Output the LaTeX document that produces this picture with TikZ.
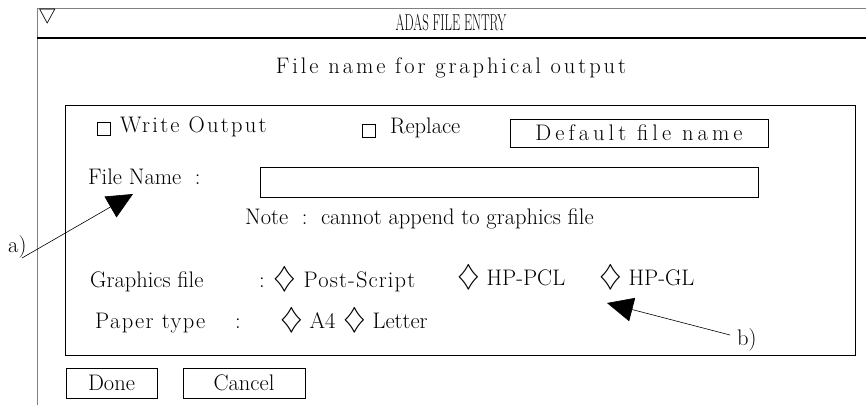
\documentclass[tikz,border=0pt]{standalone}
\usepackage{amssymb}
\usepackage{graphicx}
\usepackage{fontspec}
\setmainfont{Latin Modern Roman}
\usetikzlibrary{arrows.meta}
\newcommand{\uifont}{\fontsize{22.5}{27}\selectfont}
\newcommand{\optmark}{\raisebox{-0.5pt}{\scalebox{1.4}{$\diamondsuit$}}}
\begin{document}
\begin{tikzpicture}[x=1pt,y=-1pt,
  every node/.style={inner sep=0pt,anchor=mid west,font=\uifont},
  spaced/.style={font=\uifont\addfontfeature{LetterSpace=#1}},
  btn/.style={draw,anchor=center,inner sep=0pt},
  chkbox/.style={draw,anchor=center,minimum size=13pt},
  pointer/.style={-{Triangle[length=26pt,width=24pt]},line width=0.6pt}]
\useasboundingbox (0,0) rectangle (866,405);
% window frame
\draw[gray,line width=1pt] (37,405) -- (37,8) -- (866,8);
\draw[line width=1.2pt] (37,38) -- (866,38);
\node (menu) at (38,17) {$\bigtriangledown$};
\node[anchor=center,xscale=0.56,font=\fontsize{23}{27}\selectfont] (title) at (451,23) {ADAS FILE ENTRY};
\node[anchor=center,spaced=13] (head) at (451,68) {File name for graphical output};
\draw (65,105) rectangle (855,355);
% output options
\node[chkbox] (wbox) at (104,129) {};
\node[spaced=10] (write) at (120,130) {Write Output};
\node[chkbox] (rbox) at (369,131) {};
\node (replace) at (390,131) {Replace};
\node[btn,minimum width=258pt,minimum height=28pt,spaced=18] (default) at (639,133) {Default file name};
\node (fname) at (88,182) {File Name\ \ :};
\node[btn,minimum width=498pt,minimum height=30pt] (entry) at (509,182) {};
\node (note) at (245,222) {Note\ \ :\ \ cannot append to graphics file};
\node (graph) at (90,285) {Graphics file};
\node (gcolon) at (259,285) {:};
\node[spaced=5] (ps) at (273,285) {\optmark\ Post-Script};
\node (pcl) at (457,283) {\optmark\ HP-PCL};
\node (gl) at (599,283) {\optmark\ HP-GL};
\node[spaced=6] (paper) at (95,326) {Paper type};
\node (pcolon) at (235,326) {:};
\node (afour) at (280,326) {\optmark\ A4};
\node (letter) at (343,326) {\optmark\ Letter};
% buttons
\node[btn,minimum width=91pt,minimum height=30pt] (done) at (111.5,383) {Done};
\node[btn,minimum width=122pt,minimum height=30pt] (cancel) at (244,383) {Cancel};
% labels
\node (la) at (8,250) {a)};
\node (lb) at (737,343) {b)};
\coordinate (atip) at (133,194);
\coordinate (btip) at (607,303);
\draw[pointer] (22,258) -- (atip);
\draw[pointer] (730,335) -- (btip);
\end{tikzpicture}
\end{document}
